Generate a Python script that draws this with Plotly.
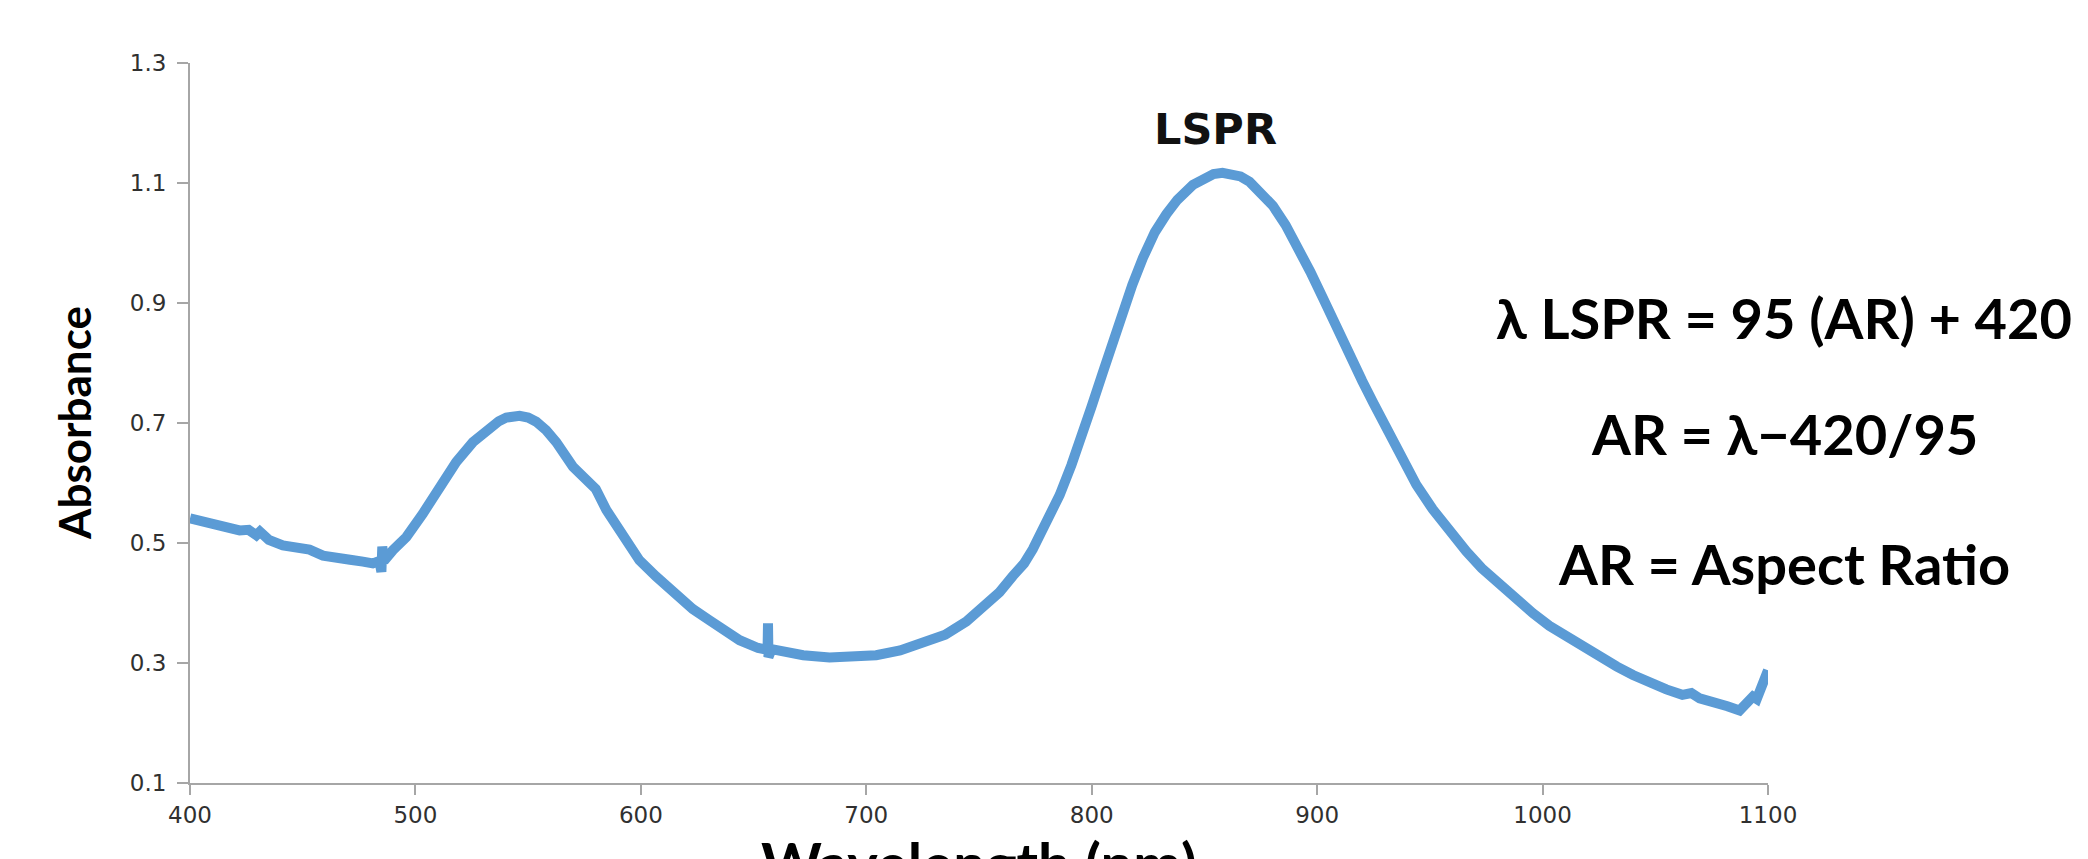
import plotly.graph_objects as go

# Spectrum (wavelength in nm, absorbance)
wavelength = [
    400, 405.7, 410, 414.6, 422, 426, 429.4, 431, 435, 441.2, 448.6, 453, 459,
    466.4, 471, 476.7, 481.1, 484, 484.9, 485.3, 486, 490, 496, 503.3, 510.7,
    518.1, 525.5, 532.9, 537, 540.3, 543, 546.2, 550, 553.6, 558, 562.5, 569.9,
    575.8, 580, 584.7, 592, 599.4, 606.8, 615.7, 623, 630.5, 637, 643.8, 652,
    656.2, 656.4, 656.6, 658, 663, 672, 683.7, 694, 704.4, 715, 725.1, 735,
    744.4, 752, 759.1, 765, 770, 773.9, 780, 785.8, 791, 796.1, 800, 805,
    809, 813.8, 818, 822.7, 828, 833.1, 838, 844.9, 850, 854, 858, 862, 866,
    870, 875, 880.4, 886, 892.2, 897, 902.6, 908, 914.4, 920, 925, 930, 936.6,
    944, 951.3, 958, 966.2, 973, 981, 988, 995.7, 1003, 1010.5, 1018, 1025.3,
    1033, 1040.1, 1047, 1054.9, 1062, 1066, 1069.7, 1074, 1077.1, 1082, 1087.4,
    1090, 1093.3, 1095, 1097.8, 1100,
]
absorbance = [
    0.541, 0.535, 0.532, 0.527, 0.521, 0.522, 0.513, 0.519, 0.505, 0.496,
    0.494, 0.489, 0.479, 0.473, 0.472, 0.469, 0.466, 0.470, 0.452, 0.494,
    0.470, 0.488, 0.510, 0.549, 0.594, 0.635, 0.668, 0.693, 0.703, 0.709,
    0.711, 0.712, 0.709, 0.702, 0.688, 0.668, 0.627, 0.605, 0.590, 0.555,
    0.510, 0.471, 0.444, 0.412, 0.390, 0.371, 0.354, 0.338, 0.325, 0.322,
    0.366, 0.310, 0.323, 0.319, 0.313, 0.309, 0.310, 0.313, 0.321, 0.333,
    0.347, 0.369, 0.392, 0.418, 0.445, 0.466, 0.490, 0.532, 0.580, 0.630,
    0.682, 0.728, 0.785, 0.832, 0.885, 0.930, 0.975, 1.018, 1.048, 1.072,
    1.097, 1.109, 1.115, 1.117, 1.116, 1.111, 1.102, 1.085, 1.062, 1.030,
    0.990, 0.952, 0.908, 0.862, 0.815, 0.770, 0.733, 0.695, 0.645, 0.597,
    0.556, 0.522, 0.486, 0.458, 0.430, 0.406, 0.383, 0.362, 0.344, 0.326,
    0.310, 0.294, 0.280, 0.268, 0.256, 0.247, 0.250, 0.241, 0.237, 0.235,
    0.228, 0.221, 0.232, 0.244, 0.240, 0.272, 0.288,
]

x_ticks = [400, 500, 600, 700, 800, 900, 1000, 1100]
y_ticks = [0.1, 0.3, 0.5, 0.7, 0.9, 1.1, 1.3]
y_ticklabels = ["0.1", "0.3", "0.5", "0.7", "0.9", "1.1", "1.3"]

peak_label = "LSPR"
peak_label_pos = (855, 1.19)
equations = ["λ LSPR = 95 (AR) + 420", "AR = λ−420/95", "AR = Aspect Ratio"]
x_title = "Wavelength (nm)"
y_title = "Absorbance"

W, H = 2088, 859
ML, MR, MT, MB = 190, 320, 63, 76
PW, PH = W - ML - MR, H - MT - MB

def px_x(px):
    return (px - ML) / PW

def px_y(py):
    return (H - MB - py) / PH

fig = go.Figure()
fig.add_trace(go.Scatter(
    x=wavelength, y=absorbance, mode="lines",
    line=dict(color="#5B9BD5", width=10),
    showlegend=False, hoverinfo="skip",
))

axis_col = "#A6A6A6"
tick_font = dict(family="DejaVu Sans", size=23, color="#303030")

fig.update_xaxes(
    range=[400, 1100], tickvals=x_ticks, ticktext=[str(v) for v in x_ticks],
    showline=True, linecolor=axis_col, linewidth=2,
    ticks="outside", ticklen=10, tickcolor=axis_col, tickwidth=2,
    showgrid=False, zeroline=False, tickfont=tick_font,
)
fig.update_yaxes(
    range=[0.1, 1.3], tickvals=y_ticks, ticktext=y_ticklabels,
    showline=True, linecolor=axis_col, linewidth=2,
    ticks="outside", ticklen=11, tickcolor=axis_col, tickwidth=2,
    ticklabelstandoff=6,
    showgrid=False, zeroline=False, tickfont=tick_font,
)

annotations = [
    dict(x=peak_label_pos[0], y=peak_label_pos[1], xref="x", yref="y",
         text=f"<b>{peak_label}</b>", showarrow=False,
         font=dict(family="DejaVu Sans", size=43, color="#111111"),
         xanchor="center", yanchor="middle"),
    dict(x=0.5, y=px_y(862), xref="paper", yref="paper",
         text=f"<b>{x_title}</b>", showarrow=False,
         font=dict(family="Lato, 'Noto Sans', sans-serif", size=58, color="#000000"),
         xanchor="center", yanchor="middle"),
    dict(x=px_x(74), y=0.5, xref="paper", yref="paper",
         text=f"<b>{y_title}</b>", showarrow=False, textangle=-90,
         font=dict(family="Lato, 'Noto Sans', sans-serif", size=44, color="#000000"),
         xanchor="center", yanchor="middle"),
]
eq_y_px = [317, 434, 563]
for txt, ypx in zip(equations, eq_y_px):
    annotations.append(dict(
        x=px_x(1784), y=px_y(ypx), xref="paper", yref="paper",
        text=f"<b>{txt}</b>", showarrow=False,
        font=dict(family="Lato, 'Noto Sans', sans-serif", size=56, color="#000000"),
        xanchor="center", yanchor="middle",
    ))

fig.update_layout(
    width=W, height=H,
    margin=dict(l=ML, r=MR, t=MT, b=MB),
    paper_bgcolor="white", plot_bgcolor="white",
    annotations=annotations,
)

fig.write_html(
    "out.html",
    config={"displayModeBar": False},
    post_script="document.body.style.margin='0';document.body.style.overflow='hidden';",
)
